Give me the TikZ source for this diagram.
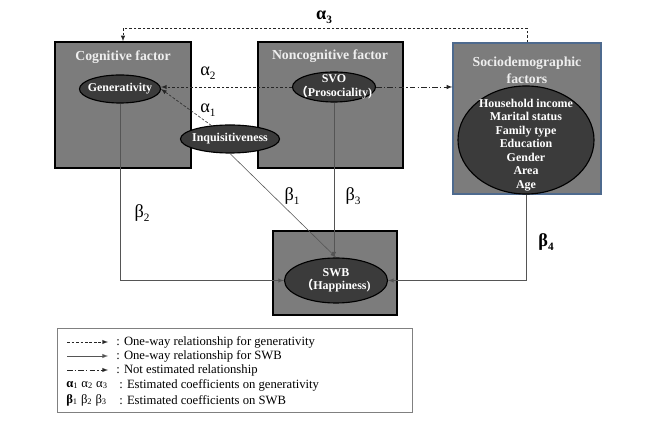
\documentclass[tikz,border=0pt]{standalone}
\usepackage{fontspec}
\setmainfont{Liberation Serif}
\newfontfamily\cjk{Noto Sans CJK SC}
\usetikzlibrary{shapes.geometric}
\definecolor{boxgray}{HTML}{7C7C7C}
\definecolor{ellgray}{HTML}{3B3B3B}
\definecolor{titlegray}{HTML}{EEEEEE}
\definecolor{sociblue}{HTML}{4E6A8E}
\definecolor{linegray}{HTML}{555555}
\newcommand{\coef}[2]{{\fontsize{13}{13}\selectfont #1}\raisebox{-0.55ex}{\fontsize{8}{8}\selectfont #2}}
\newcommand{\fwparen}{{\cjk （}}
\begin{document}
\begin{tikzpicture}[x=0.025cm, y=-0.025cm, >=latex,
    factor/.style={draw, line width=0.9pt, fill=boxgray, inner sep=0pt},
    var/.style={draw, line width=0.8pt, fill=ellgray, ellipse, inner sep=0pt},
    vartext/.style={text=white, inner sep=0pt, font=\fontsize{8.5}{9.6}\selectfont\bfseries, align=center},
    title/.style={text=titlegray, font=\fontsize{9.8}{12}\selectfont\bfseries, align=center},
    genline/.style={->, dash pattern=on 2pt off 1.2pt, black!85},
    swbline/.style={->, linegray},
    noneline/.style={->, dash pattern=on 4pt off 1.5pt on 1pt off 1.5pt, black!85},
    coeflab/.style={inner sep=1pt},
    legtext/.style={anchor=west, inner sep=0pt, font=\fontsize{9}{10}\selectfont}]

\useasboundingbox (0,0) rectangle (652,431);

\node[factor, minimum width=3.4cm, minimum height=3.15cm] (cog) at (123,105) {};
\node[factor, minimum width=3.625cm, minimum height=3.15cm] (noncog) at (330.5,105) {};
\node[factor, draw=sociblue, minimum width=3.7cm, minimum height=3.775cm] (socio) at (527,118.5) {};
\node[factor, minimum width=3.1cm, minimum height=2.1cm] (swbbox) at (335,273) {};

\node[title] (cogtitle) at (123,57) {Cognitive factor};
\node[title] (noncogtitle) at (330,56) {Noncognitive factor};
\node[title] (sociotitle) at (527,70) {Sociodemographic\\factors};

\node[var, minimum width=2.025cm, minimum height=0.7cm] (gen) at (120,89) {};
\node[var, minimum width=2.075cm, minimum height=0.75cm] (svo) at (334,87) {};
\node[var, minimum width=2.475cm, minimum height=0.7cm] (inq) at (230,139) {};
\node[var, minimum width=3.4cm, minimum height=2.7cm] (demo) at (526,140) {};
\node[var, minimum width=2.575cm, minimum height=1.125cm] (swb) at (336,280.5) {};

\node[vartext] (gentext) at (gen) {Generativity};
\node[vartext] (svotext) at (svo) {SVO\\\fwparen Prosociality)};
\node[vartext] (inqtext) at (inq) {Inquisitiveness};
\node[vartext] (demotext) at (526,145)
    {Household income\\Marital status\\Family type\\Education\\Gender\\Area\\Age};
\node[vartext] (swbtext) at (swb) {SWB\\\fwparen Happiness)};

\coordinate (top) at (123,28);
\draw[genline] (socio.north) |- (top) -- (cog.north);
\draw[genline] (svo.west) -- (svo.west -| gen.east);
\draw[genline] (inq) -- (gen.east);
\draw[noneline] (svo.east) -- (svo.east -| socio.west);

\draw[swbline] (gen.south) |- (swb.west);
\draw[swbline] (demo.south) |- (swb.east);
\draw[swbline] (svo.south) -- (svo.south |- swb.north);
\draw[swbline] (inq.south) -- (swb.north);

\node[coeflab] (a3) at (324,17) {\bfseries\coef{α}{3}};
\node[coeflab] (a2) at (208,73) {\coef{α}{2}};
\node[coeflab] (a1) at (208,110) {\coef{α}{1}};
\node[coeflab] (b1) at (292,196) {\coef{β}{1}};
\node[coeflab] (b3) at (353,196) {\coef{β}{3}};
\node[coeflab] (b2) at (142,213) {\coef{β}{2}};
\node[coeflab] (b4) at (546,242) {\bfseries\coef{β}{4}};

\node[draw, black!50, minimum width=8.875cm, minimum height=2.1cm] (legend) at (234.5,370) {};
\foreach \i/\y/\sty/\txt in {1/342/genline/{One-way relationship for generativity},
        2/356/swbline/{One-way relationship for SWB},
        3/370/noneline/{Not estimated relationship}} {
    \coordinate (ls\i) at (67,\y);
    \coordinate (le\i) at (108,\y);
    \draw[\sty] (ls\i) -- (le\i);
    \node[legtext] (lt\i) at (116,\y) {: \txt};
}
\node[legtext] (lc4) at (66,385) {\textbf{α}\textsubscript{1} α\textsubscript{2} α\textsubscript{3}};
\node[legtext] (lt4) at (119,385) {: Estimated coefficients on generativity};
\node[legtext] (lc5) at (66,400) {\textbf{β}\textsubscript{1} β\textsubscript{2} β\textsubscript{3}};
\node[legtext] (lt5) at (119,400) {: Estimated coefficients on SWB};
\end{tikzpicture}
\end{document}
